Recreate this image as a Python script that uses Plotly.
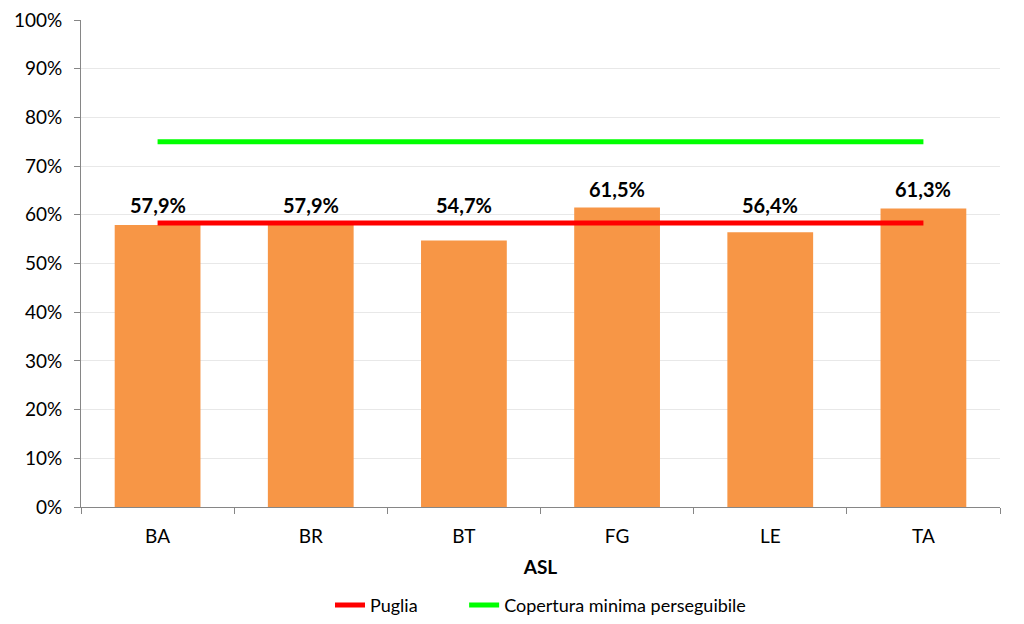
import plotly.graph_objects as go

categories = ["BA", "BR", "BT", "FG", "LE", "TA"]
coverage = [0.579, 0.579, 0.547, 0.615, 0.564, 0.613]
puglia = [0.583, 0.583, 0.583, 0.583, 0.583, 0.583]
target = [0.75, 0.75, 0.75, 0.75, 0.75, 0.75]
y_ticks = [0, 0.1, 0.2, 0.3, 0.4, 0.5, 0.6, 0.7, 0.8, 0.9, 1.0]

FONT = "Lato, Carlito, Calibri, sans-serif"
PAD = "\u00a0" * 9

fig = go.Figure()
fig.add_trace(go.Bar(
    x=categories, y=coverage, marker=dict(color="#F79646", line=dict(width=0)),
    width=0.56, showlegend=False, hoverinfo="y",
))
fig.add_trace(go.Scatter(
    x=categories, y=puglia, mode="lines", name="Puglia" + PAD,
    line=dict(color="#FF0000", width=5),
))
fig.add_trace(go.Scatter(
    x=categories, y=target, mode="lines", name="Copertura minima perseguibile",
    line=dict(color="#00FF00", width=5),
))

# value labels placed above the higher of bar and Puglia line
for c, v, p in zip(categories, coverage, puglia):
    fig.add_annotation(
        x=c, y=max(v, p), yanchor="bottom", yshift=5 if v > p else 4,
        text="<b>" + f"{v*100:.1f}".replace(".", ",") + "%</b>",
        showarrow=False, font=dict(size=20, color="black", family=FONT),
    )

fig.update_layout(
    width=1024, height=624,
    margin=dict(l=81, r=24, t=20, b=117),
    paper_bgcolor="white", plot_bgcolor="white",
    separators=",.",
    font=dict(family=FONT, size=18, color="black"),
    legend=dict(orientation="h", x=0.5, xanchor="center", yref="container",
                y=0.03, yanchor="middle",
                font=dict(size=18), itemwidth=30, traceorder="normal"),
    xaxis=dict(
        title=dict(text="<b>ASL</b>", font=dict(size=19), standoff=14),
        tickson="boundaries", ticks="outside", ticklen=6, tickcolor="#868686",
        showline=True, linecolor="#868686", linewidth=1, showgrid=False,
        tickfont=dict(size=19), ticklabelstandoff=12, automargin=False,
    ),
    yaxis=dict(
        range=[0, 1], tickvals=y_ticks, tickformat=".0%",
        ticks="outside", ticklen=6, tickcolor="#868686",
        showline=True, linecolor="#868686", linewidth=1,
        showgrid=True, gridcolor="#E8E8E8", gridwidth=1, zeroline=False,
        tickfont=dict(size=19), ticklabelstandoff=8, automargin=False,
    ),
)

fig.write_html("out.html")
